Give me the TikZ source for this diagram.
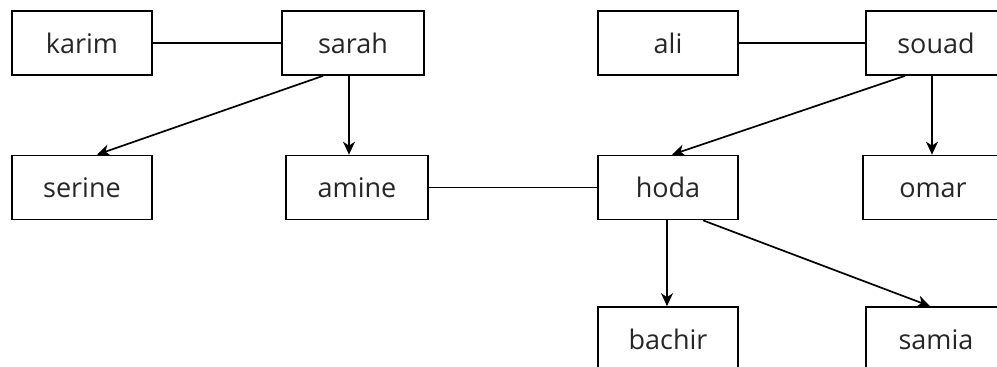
\documentclass[tikz,border=0pt]{standalone}
\usepackage{fontspec}
\setmainfont{Open Sans}
\usetikzlibrary{arrows.meta}
\begin{document}
\begin{tikzpicture}[x=1pt,y=-1pt,
  person/.style={draw=black,line width=1.7pt,minimum width=140pt,minimum height=64pt,inner sep=0pt,text height=20pt,text depth=0pt,font=\fontsize{27}{32}\selectfont,text=black!85},
  link/.style={draw=black,line width=1.7pt},
  arr/.style={link,-{Stealth[length=13pt,width=12pt,inset=4pt]}}]
\useasboundingbox (0,0) rectangle (997,367);
\begin{scope}
\clip (0,0) rectangle (997,367);
\node[person] (karim) at (82,43) {karim};
\node[person,minimum width=142pt] (sarah) at (353,43) {sarah};
\node[person] (ali) at (668,43) {ali};
\node[person] (souad) at (936,43) {souad};
\node[person] (serine) at (82,187.5) {serine};
\node[person,minimum width=142pt] (amine) at (357,187.5) {amine};
\node[person] (hoda) at (668,187.5) {hoda};
\node[person] (omar) at (933,187.5) {omar};
\node[person] (bachir) at (668,339) {bachir};
\node[person] (samia) at (936,339) {samia};
\end{scope}
\draw[link] (karim.east) -- (sarah.west);
\draw[link] (ali.east) -- (souad.west);
\draw[link] (amine.east) -- (hoda.west);
\draw[arr] ([xshift=-30pt]sarah.south) -- ([xshift=15pt]serine.north);
\draw[arr] ([xshift=-4pt]sarah.south) -- ([xshift=-8pt]amine.north);
\draw[arr] ([xshift=-31pt]souad.south) -- ([xshift=4pt]hoda.north);
\draw[arr] ([xshift=-4pt]souad.south) -- ([xshift=-1pt]omar.north);
\draw[arr] ([xshift=-1pt]hoda.south) -- ([xshift=-1pt]bachir.north);
\draw[arr] ([xshift=35pt]hoda.south) -- ([xshift=-6pt]samia.north);
\end{tikzpicture}
\end{document}
